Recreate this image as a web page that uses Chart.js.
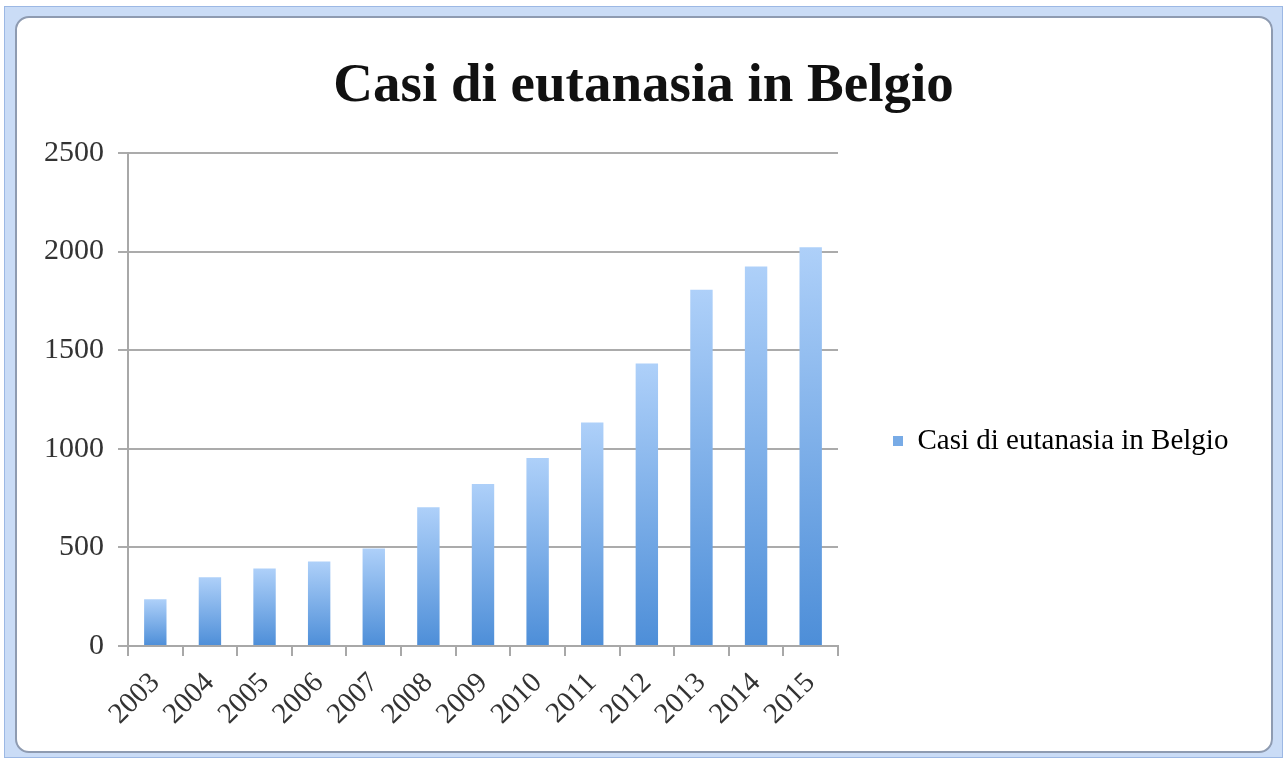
<!DOCTYPE html>
<html>
<head>
<meta charset="utf-8">
<script src="https://cdn.jsdelivr.net/npm/chart.js@4/dist/chart.umd.min.js"></script>
<style>
  html, body { margin: 0; padding: 0; background: #fff; }
  body { width: 1287px; height: 762px; position: relative; overflow: hidden; }
  #frame {
    position: absolute; left: 4px; top: 6px; width: 1279px; height: 752px;
    box-sizing: border-box; background: #cadcf6; border: 1px solid #9cb8e4;
  }
  #box {
    position: absolute; left: 15px; top: 16px; width: 1258px; height: 737px;
    box-sizing: border-box; background: #fff; border: 2px solid #8e9bb1; border-radius: 14px;
  }
  #c { position: absolute; left: 0; top: 0; }
</style>
</head>
<body>
<div id="frame"></div>
<div id="box"></div>
<canvas id="c" width="1287" height="762"></canvas>
<script>
const title = "Casi di eutanasia in Belgio";
const years = ["2003", "2004", "2005", "2006", "2007", "2008", "2009",
               "2010", "2011", "2012", "2013", "2014", "2015"];
const cases = [237, 349, 393, 429, 495, 704, 822, 953, 1133, 1432, 1807, 1924, 2022];
const yMin = 0, yMax = 2500, yStep = 500;

const serif = '"Liberation Serif", "DejaVu Serif", serif';
const topBlue = "#aed0f9";
const bottomBlue = "#4d8ed8";

// each bar gets its own gradient, light at the top, darker at the base
function barFill(ctx) {
  const y = ctx.chart.scales.y;
  if (!y || ctx.raw === undefined) return bottomBlue;
  const top = y.getPixelForValue(ctx.raw);
  const base = y.getPixelForValue(0);
  if (!isFinite(top) || !isFinite(base) || top === base) return bottomBlue;
  const g = ctx.chart.ctx.createLinearGradient(0, top, 0, base);
  g.addColorStop(0, topBlue);
  g.addColorStop(1, bottomBlue);
  return g;
}

// the legend column on the right is wider than chart.js would allow by default
const legendWidth = 1287 - 838;
const legendFix = {
  id: "legendFix",
  beforeLayout(chart) {
    const lg = chart.legend;
    if (lg && !lg._fixed) {
      const fit = lg.fit.bind(lg);
      lg.fit = function () { fit(); this.width = legendWidth; };
      lg._fixed = true;
    }
  },
  afterLayout(chart) {
    chart.legend.top += 60;
    chart.legend.bottom += 60;
  }
};

new Chart(document.getElementById("c"), {
  type: "bar",
  data: {
    labels: years,
    datasets: [{
      label: title,
      data: cases,
      backgroundColor: barFill,
      categoryPercentage: 1,
      barPercentage: 0.41
    }]
  },
  options: {
    responsive: false,
    animation: false,
    layout: { padding: 0 },
    plugins: {
      title: {
        display: true,
        text: title,
        color: "#111",
        font: { family: serif, size: 55, weight: "bold", lineHeight: 1.2 },
        padding: { top: 54, bottom: 33 }
      },
      legend: {
        position: "right",
        labels: {
          color: "#333",
          font: { family: serif, size: 29 },
          boxWidth: 10,
          boxHeight: 10,
          padding: 55,
          generateLabels() {
            return [{
              text: title, fillStyle: "#78abe6", strokeStyle: "#78abe6",
              lineWidth: 0, datasetIndex: 0
            }];
          }
        }
      },
      tooltip: { enabled: false }
    },
    scales: {
      x: {
        grid: { display: true, drawOnChartArea: false, tickLength: 10, color: "#a8a8a8", lineWidth: 2, offset: true },
        border: { color: "#a8a8a8", width: 2 },
        ticks: {
          color: "#333", font: { family: serif, size: 29 },
          minRotation: 45, maxRotation: 45, padding: 10, autoSkip: false
        },
        afterFit(s) { s.height = 116; }
      },
      y: {
        min: yMin, max: yMax,
        grid: { color: "#ababab", lineWidth: 2, tickLength: 10 },
        border: { color: "#a8a8a8", width: 2 },
        ticks: {
          stepSize: yStep, color: "#333", font: { family: serif, size: 30 }, padding: 14,
          callback: v => String(v)
        },
        afterFit(s) { s.width = 128; }
      }
    }
  },
  plugins: [legendFix]
});
</script>
</body>
</html>
